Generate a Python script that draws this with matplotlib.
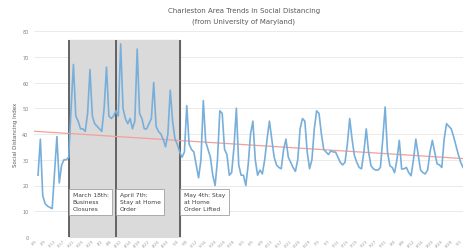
import numpy as np
import pandas as pd
import matplotlib
matplotlib.use('Agg')
import matplotlib.pyplot as plt

# daily social distancing index, starting 3/5/2020
values = [24, 38, 16, 13, 12, 11.5, 11, 25, 39, 21, 28, 30, 30, 31,
          50, 67, 47, 45, 42, 42, 41, 48, 65, 47, 44, 43, 42, 41,
          50, 66, 47, 46, 47, 49, 47, 75, 50, 46, 44, 46, 42, 45,
          73, 48, 46, 42, 42, 44, 46, 60, 43, 41, 40, 38, 35, 40,
          57, 45, 38, 36, 33, 31, 33, 51, 36, 34, 33, 28, 23, 30,
          53, 37, 34, 31, 24, 20, 30, 49, 48, 34, 32, 24, 25, 35,
          50, 28, 24, 24, 20, 28, 40, 45, 30, 24, 26, 24.5, 30, 38,
          45, 38, 31, 28, 27, 26.5, 34, 38, 31, 29, 27, 25.5, 30, 42,
          46, 45, 33, 26.5, 30, 42, 49, 48, 40, 34, 33, 32, 33.5, 33,
          33, 31, 29, 28, 29, 36, 46, 38, 31.6, 29, 27, 26.5, 33, 42,
          33, 27.7, 26.5, 26, 26, 27, 38, 50.5, 33, 27.7, 27, 25, 30, 37.5,
          26.4, 26.5, 27, 25, 23.8, 30, 38, 32, 26, 25, 24.5, 26, 33, 37.5,
          33, 28.4, 28, 27, 38, 44, 43, 42, 39, 35.5, 32, 29, 27]
start = pd.Timestamp('2020-03-05')
dates = pd.date_range(start, periods=len(values), freq='D')
days = np.arange(len(values))

events = ['2020-03-18', '2020-04-07', '2020-05-04']
event_labels = ['March 18th:\nBusiness\nClosures',
                'April 7th:\nStay at Home\nOrder',
                'May 4th: Stay\nat Home\nOrder Lifted']
event_days = [(pd.Timestamp(e) - start).days for e in events]

W, H = 464, 251
fig = plt.figure(figsize=(W / 100, H / 100), dpi=100)
ax = fig.add_axes([34 / W, 1 - 238 / H, (W - 34) / W, (238 - 32) / H])

grey = '#7f7f7f'
ax.set_ylim(0, 80)
ax.set_xlim(-1.7, len(values) - 0.6)
ax.set_yticks(np.arange(0, 81, 10))
ax.grid(axis='y', color='#e6e6e6', lw=0.6)
ax.set_axisbelow(True)
for s in ax.spines.values():
    s.set_visible(False)

# shaded period and event lines
top = 76.4
ax.fill_between([event_days[0], event_days[2]], 0, top, color='#dadada', zorder=1)
ax.vlines(event_days, 0, top, color='#595959', lw=1.3, zorder=2)

ax.plot(days, values, color='#78afda', lw=1.2, zorder=3)

# linear trendline
k, b = np.polyfit(days, values, 1)
xt = np.array([-1.7, len(values)])
ax.plot(xt, k * xt + b, color='#f2a099', lw=0.9, zorder=2.5)

for d, lab in zip(event_days, event_labels):
    ax.text(d + 1.7, 17.3, lab, fontsize=4.3, color='#404040', va='top', ha='left',
            linespacing=1.5, zorder=5,
            bbox=dict(boxstyle='square,pad=0.6', fc='white', ec='#a0a0a0', lw=0.6))

tick_days = days[::4]
ax.set_xticks(tick_days)
ax.set_xticklabels([f'{d.month}/{d.day}' for d in dates[::4]], rotation=45,
                   ha='right', fontsize=3, color='#a0a0a0')
ax.tick_params(axis='x', length=0, pad=1)
ax.tick_params(axis='y', length=0, pad=4, labelsize=3.5, labelcolor=grey)
ax.set_ylabel('Social Distancing Index', fontsize=4, color='#595959', labelpad=3)

fig.text(244 / W, 1 - 11 / H, 'Charleston Area Trends in Social Distancing',
         fontsize=5, color='#595959', ha='center', va='center')
fig.text(244 / W, 1 - 22 / H, '(from University of Maryland)',
         fontsize=5, color='#595959', ha='center', va='center')

fig.savefig('out.png', dpi=100)
